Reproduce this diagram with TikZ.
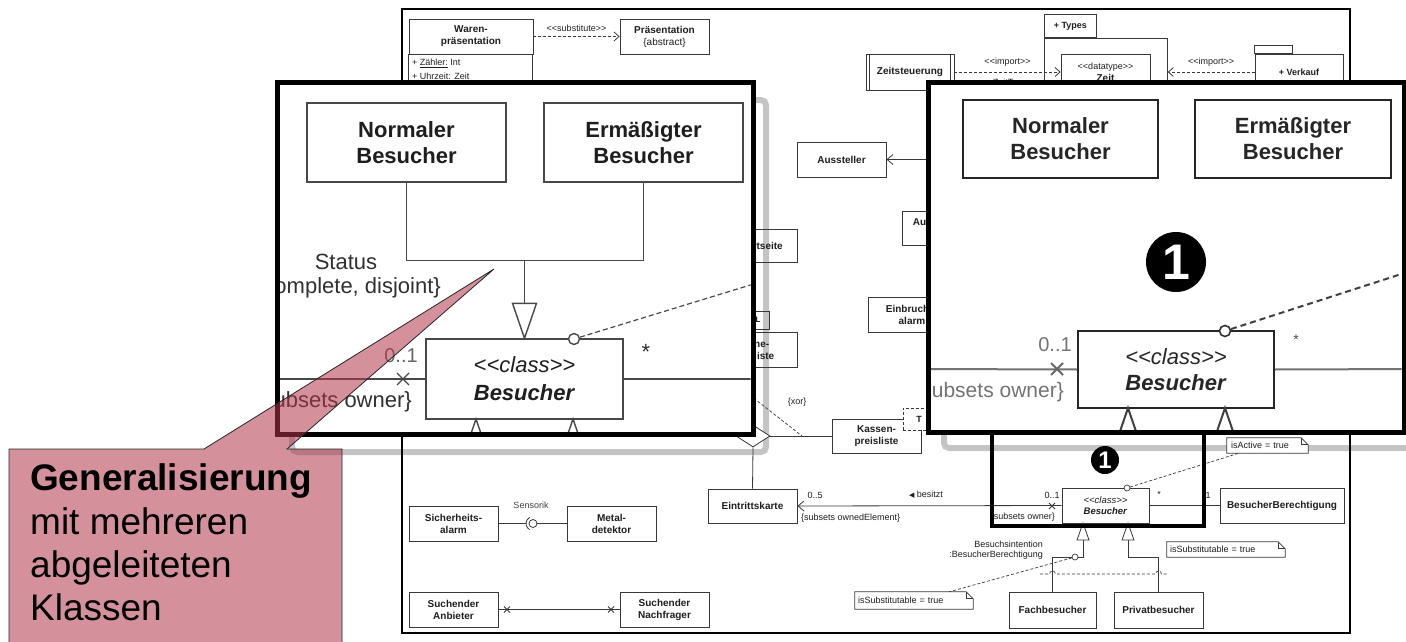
\documentclass[tikz,border=0pt]{standalone}
\usepackage{fontspec}
\setmainfont{Liberation Sans}
\newfontfamily\symfont{DejaVu Sans}
\usetikzlibrary{arrows.meta,shapes.geometric,calc}

\definecolor{ink}{HTML}{1E1E1E}
\definecolor{lnc}{HTML}{383838}
\definecolor{zoomline}{HTML}{484848}
\definecolor{zoomtext}{HTML}{303030}
\definecolor{shade}{HTML}{C4C4C4}
\definecolor{calloutpink}{RGB}{177,55,75}

% stereotype brackets without guillemet ligatures
\newcommand\guil[1]{<\kern0pt<#1>\kern0pt>}
% cross on an association end: #1 coordinate, #2 half size, #3 style
\newcommand\navx[3]{\draw[#3] (#1) ++(-#2,-#2) -- ++(2*#2,2*#2) ++(0,-2*#2) -- ++(-2*#2,2*#2);}
% outline of a UML note with folded corner
\newcommand\umlnote[1]{%
  \draw[lnc, line width=0.7] (#1.north west) -- ([xshift=-7pt]#1.north east) -- ([yshift=-7pt]#1.north east) -- (#1.south east) -- (#1.south west) -- cycle;
  \draw[lnc, line width=0.7] ([xshift=-7pt]#1.north east) |- ([yshift=-7pt]#1.north east);}

\begin{document}
\begin{tikzpicture}[x=1pt, y=-1pt,
  cls/.style={draw=lnc, line width=0.8, align=center, inner sep=1, text=ink, font=\bfseries\fontsize{10}{12}\selectfont},
  lbl/.style={inner sep=0, text=ink, font=\fontsize{9}{11}\selectfont},
  conn/.style={draw=lnc, line width=0.8},
  dep/.style={conn, dash pattern=on 3pt off 2pt, -{Straight Barb[length=5pt,width=9pt]}},
  navarrow/.style={conn, -{Straight Barb[length=6pt,width=10pt]}},
  dashlink/.style={conn, line width=0.7, dash pattern=on 3pt off 2pt},
  notebox/.style={lbl, fill=white, minimum height=15, inner xsep=4pt, text width=#1pt, align=left},
  tinycirc/.style={circle, draw=lnc, line width=0.7, fill=white, minimum size=6, inner sep=0},
  bigcls/.style={draw=zoomline, line width=1.4, align=center, text=ink, inner sep=2, font=\bfseries\fontsize{22}{26}\selectfont},
  biglbl/.style={inner sep=0, text=zoomtext, font=\fontsize{22}{26}\selectfont},
  bigline/.style={draw=zoomline, line width=1.4},
  blurcls/.style={draw=black!85, line width=2, align=center, text=black!85, inner sep=2, font=\bfseries\fontsize{22}{26}\selectfont},
  blurlbl/.style={inner sep=0, text=black!70, font=\fontsize{21}{26}\selectfont},
  blurline/.style={draw=black!75, line width=2},
  zoomframe/.style={draw=black, line width=5},
  shadowframe/.style={draw=shade, line width=6, rounded corners=5},
]
\useasboundingbox (0,0) rectangle (1406,642);

% ---------- grey drop frames of the magnified views ----------
\draw[shadowframe] (292,100) rectangle (766,452);
\draw[shadowframe] (944,100) rectangle (1440,448);

% ---------- class diagram ----------
\draw[black, line width=2] (402,9) rectangle (1350,633);

% Warenpraesentation and Praesentation
\node[cls, minimum width=124, minimum height=35] (waren) at (471,36.5) {Waren-\\präsentation};
\draw[lnc, line width=0.8] (waren.south west) rectangle ++(124,50);
\node[lbl, anchor=west] (attr1) at (412,63) {+ \underline{Zähler:} Int};
\node[lbl, anchor=west] (attr2) at (412,76) {+ Uhrzeit: Zeit};
\node[cls, minimum width=89, minimum height=35] (praes) at (664.5,36.5) {Präsentation\\{\mdseries\{abstract\}}};
\draw[dep] (waren.east) -- node[lbl, above=5pt] (subst) {\guil{substitute}} (praes.west);

% Zeitsteuerung, package Types, package Verkauf
\node[cls, minimum width=88, minimum height=36] (zeitst) at (910,72) {Zeitsteuerung};
\draw[conn] ([xshift=4]zeitst.north west) -- ([xshift=4]zeitst.south west);
\draw[conn] ([xshift=-4]zeitst.north east) -- ([xshift=-4]zeitst.south east);
\node[draw=lnc, line width=0.8, minimum width=123, minimum height=110, anchor=north west, inner sep=0] (types) at (1044,38) {};
\node[cls, minimum width=52, minimum height=23, anchor=south west, inner sep=0, font=\bfseries\fontsize{9}{11}\selectfont] (typestab) at (types.north west) {+ Types};
\node[cls, minimum width=89, minimum height=36] (zeit) at (1105.5,72) {{\mdseries\fontsize{9}{11}\selectfont\guil{datatype}}\\Zeit};
\node[cls, minimum width=88, minimum height=36, font=\bfseries\fontsize{9}{11}\selectfont] (verkauf) at (1299,72) {+ Verkauf};
\draw[conn] (verkauf.north west) rectangle ++(38,-8);
\draw[dep] (zeitst.east) -- node[lbl, above=5pt] (imp1) {\guil{import}} node[lbl, below=7pt] (ztyp) {ZeitTyp} (zeit.west);
\draw[dep] (verkauf.west) -- node[lbl, above=5pt] (imp2) {\guil{import}} (verkauf.west -| types.east);

% middle column
\node[cls, minimum width=89, minimum height=35] (aussteller) at (841.5,159.5) {Aussteller};
\coordinate (ausstsrc) at (990,159.5);
\draw[navarrow] (ausstsrc) -- (aussteller.east);
\node[cls, minimum width=88, minimum height=34] (ausfl) at (946,228) {Ausstellungs-\\fläche};
\node[cls, minimum width=74, minimum height=33] (start) at (760,245.5) {Startseite};
\node[cls, minimum width=88, minimum height=35] (einbruch) at (912,314.5) {Einbruchs-\\alarm};
\node[cls, minimum width=39, minimum height=18, font=\bfseries\fontsize{8}{9}\selectfont] (html) at (749.5,320) {HTML};
\node[cls, minimum width=90, minimum height=35] (online) at (752,349.5) {Online-\\Preisliste};

% Kassenpreisliste with template parameter, aggregation, xor
\node[cls, minimum width=89, minimum height=34] (kassen) at (876.5,436) {Kassen-\\preisliste};
\node[draw=lnc, dash pattern=on 3pt off 2pt, line width=0.8, fill=white, minimum width=32, minimum height=22, inner sep=0, text=ink, font=\bfseries\fontsize{9}{9}\selectfont] (tparam) at (919,419) {T};
\node[cls, minimum width=89, minimum height=34] (eintritt) at (752.5,506) {Eintrittskarte};
\node[diamond, draw=lnc, line width=0.8, minimum width=34, minimum height=22, inner sep=0, fill=white] (agg) at (753,436) {};
\draw[conn] (agg.east) -- (kassen.west);
\draw[conn] (agg.south) -- (eintritt.north);
\coordinate (xora) at (742,389);
\coordinate (xorb) at (802,436);
\draw[dashlink] (xora) -- (xorb);
\node[lbl] (xorlbl) at (797,402) {\{xor\}};

% Besucher and its associations
\node[cls, minimum width=87, minimum height=35, font=\fontsize{9.5}{11.5}\selectfont] (bes) at (1105.5,505.5) {\textit{\guil{class}}\\\textbf{\textit{Besucher}}};
\node[cls, minimum width=124, minimum height=35] (berecht) at (1282,505.5) {BesucherBerechtigung};
\draw[navarrow] (bes.west) -- (eintritt.east);
\draw[conn] (bes.east) -- (berecht.west);
\node[lbl] (m05) at (815,495) {0..5};
\node[lbl, anchor=west] (own1) at (801,518) {\{subsets ownedElement\}};
\node[lbl] (besitzt) at (926,495) {{\symfont\fontsize{7}{7}\selectfont ◀} besitzt};
\node[lbl] (m01) at (1052,495) {0..1};
\node[lbl, anchor=east] (own2) at (1055,517) {\{subsets owner\}};
\coordinate (xm) at (1052,506);
\navx{xm}{3}{conn}
\node[lbl] (star) at (1159,494) {*};
\node[lbl] (one) at (1208,495) {1};

\node[notebox=73] (nact) at (1267.5,445.5) {isActive = true};
\umlnote{nact}
\node[tinycirc] (bcirc) at (1127,488) {};
\draw[dashlink] (bcirc) -- ([xshift=12pt]nact.south west);

% specialisations of Besucher
\node[cls, minimum width=87, minimum height=36] (fach) at (1052.5,610) {Fachbesucher};
\node[cls, minimum width=89, minimum height=36] (priv) at (1158.5,610) {Privatbesucher};
\coordinate (g1) at (1083,523);
\coordinate (g2) at (1128,523);
\draw[conn] (g1) ++(0,17) -- ++(0,17) -| (fach.north);
\draw[conn] (g2) ++(0,17) -- ++(0,17) -| (priv.north);
\draw[conn, fill=white] (g1) -- ++(-6,17) -- ++(12,0) -- cycle;
\draw[conn, fill=white] (g2) -- ++(-6,17) -- ++(12,0) -- cycle;
\coordinate (ja) at (1040,574);
\coordinate (jb) at (1167,574);
\draw[dashlink] (ja) -- (1049.5,574) arc[start angle=180, end angle=360, radius=3] -- (1155.5,574) arc[start angle=180, end angle=360, radius=3] -- (jb);
\node[lbl, anchor=east] (bint1) at (1043,544) {Besuchsintention};
\node[lbl, anchor=east] (bint2) at (1043,555) {:BesucherBerechtigung};
\node[notebox=112, inner xsep=3pt] (nsub2) at (1226,549.5) {isSubstitutable = true};
\umlnote{nsub2}
\node[notebox=112, inner xsep=3pt, minimum height=17] (nsub1) at (914,600.5) {isSubstitutable = true};
\umlnote{nsub1}
\node[tinycirc] (gcirc) at (1075,557) {};
\draw[dashlink] (gcirc) -- ([xshift=-24pt]nsub1.north east);

% Sicherheitsalarm with ball and socket
\node[cls, minimum width=89, minimum height=35] (sich) at (453.5,523.5) {Sicherheits-\\alarm};
\node[cls, minimum width=89, minimum height=35] (metal) at (611.5,523.5) {Metal-\\detektor};
\coordinate (ball) at (533,523.5);
\draw[conn] (sich.east) -- ([xshift=-7pt]ball);
\draw[conn] ([xshift=4pt]ball) -- (metal.west);
\draw[conn] (ball) circle[radius=4];
\draw[conn] ([shift={(120:7)}]ball) arc[start angle=120, end angle=240, radius=7];
\node[lbl, text=black!75] (sens) at (531,505) {Sensorik};

% Suchender Anbieter / Nachfrager
\node[cls, minimum width=89, minimum height=35] (anb) at (453.5,609.5) {Suchender\\Anbieter};
\node[cls, minimum width=89, minimum height=35] (nachf) at (664.5,609.5) {Suchender\\Nachfrager};
\draw[conn] (anb.east) -- (nachf.west);
\coordinate (xa1) at (507,609.5);
\coordinate (xa2) at (611,609.5);
\navx{xa1}{3}{conn}
\navx{xa2}{3}{conn}

% marker of the magnified region
\draw[black, line width=4] (992,433) rectangle (1204,526);
\node[circle, fill=black, minimum size=28, inner sep=0, text=white, font=\bfseries\fontsize{24}{24}\selectfont] (num1) at (1105,460) {1};

% ---------- left magnified view ----------
\fill[white] (277,83) rectangle (753,434);
\begin{scope}
\clip (279.5,85.5) rectangle (750.5,431.5);
\node[bigcls, minimum width=199, minimum height=79] (normal) at (406.5,142.5) {Normaler\\Besucher};
\node[bigcls, minimum width=199, minimum height=79] (ermaess) at (643.5,142.5) {Ermäßigter\\Besucher};
\node[bigcls, minimum width=197, minimum height=80, font=\fontsize{22}{28}\selectfont] (bigbes) at (524.5,379) {\textit{\guil{class}}\\\textbf{\textit{Besucher}}};
\draw[bigline] (normal.south) -- ++(0,78) -| (ermaess.south);
\coordinate (gjoin) at (524.5,260);
\draw[bigline] (gjoin) -- ++(0,44);
\draw[bigline, fill=white] (bigbes.north) -- ++(-12,-35) -- ++(24,0) -- cycle;
\coordinate (bigdash) at (770,279);
\node[circle, draw=zoomline, line width=1.4, fill=white, minimum size=11, inner sep=0] (bigcirc) at (574,339) {};
\draw[bigline, line width=1.2, dash pattern=on 5pt off 3pt] (bigcirc) -- (bigdash);
\coordinate (lassocl) at (270,379);
\coordinate (lassocr) at (760,379);
\draw[bigline] (lassocl) -- (bigbes.west);
\draw[bigline] (bigbes.east) -- (lassocr);
\coordinate (bigx) at (403,379);
\navx{bigx}{6}{bigline}
\node[biglbl, text=black!60, font=\fontsize{20}{24}\selectfont] (big01) at (401,356) {0..1};
\node[biglbl, anchor=east] (bigown) at (412,402) {\{subsets owner\}};
\node[biglbl] (bigstar) at (646,352) {*};
\node[biglbl] (status) at (346,262) {Status};
\node[biglbl, anchor=east] (cd) at (441,288) {\{complete, disjoint\}};
\coordinate (bg1) at (476,419);
\coordinate (bg2) at (573,419);
\draw[bigline, fill=white] (bg1) -- ++(-12,35) -- ++(24,0) -- cycle;
\draw[bigline, fill=white] (bg2) -- ++(-12,35) -- ++(24,0) -- cycle;
\end{scope}
\draw[zoomframe] (277,83) rectangle (753,434);

% ---------- right magnified view ----------
\fill[white] (928,83) rectangle (1404,432);
\begin{scope}
\clip (930.5,85.5) rectangle (1401.5,429.5);
\node[blurcls, minimum width=195, minimum height=78] (normal2) at (1060.5,139) {Normaler\\Besucher};
\node[blurcls, minimum width=196, minimum height=78] (ermaess2) at (1293,139) {Ermäßigter\\Besucher};
\node[circle, fill=black, minimum size=60, inner sep=0, text=white, font=\bfseries\fontsize{50}{50}\selectfont] (num2) at (1176,262) {1};
\node[blurcls, minimum width=196, minimum height=77, font=\fontsize{22}{26}\selectfont] (bes2) at (1176,369.5) {\textit{\guil{class}}\\\textbf{\textit{Besucher}}};
\coordinate (dash2) at (1420,268);
\node[circle, draw=black!80, line width=1.6, fill=white, minimum size=11, inner sep=0] (circ2) at (1225,331) {};
\draw[blurline, dash pattern=on 6pt off 4pt] (circ2) -- (dash2);
\coordinate (rassocl) at (920,369);
\coordinate (rassocr) at (1420,369);
\draw[blurline, draw=black!55] (rassocl) -- (bes2.west);
\draw[blurline, draw=black!55] (bes2.east) -- (rassocr);
\coordinate (x2) at (1057,369);
\navx{x2}{6}{blurline, draw=black!60}
\node[blurlbl, text=black!55, font=\fontsize{20}{24}\selectfont] (r01) at (1055,345) {0..1};
\node[blurlbl, text=black!55, anchor=east] (rown) at (1064,392) {\{subsets owner\}};
\node[blurlbl, font=\fontsize{14}{14}\selectfont] (rstar) at (1296,340) {*};
\coordinate (rg1) at (1128,408);
\coordinate (rg2) at (1225,408);
\draw[blurline, fill=white] (rg1) -- ++(-12,35) -- ++(24,0) -- cycle;
\draw[blurline, fill=white] (rg2) -- ++(-12,35) -- ++(24,0) -- cycle;
\end{scope}
\draw[zoomframe] (928,83) rectangle (1404,432);

% ---------- callout ----------
\coordinate (calltip) at (494,269);
\path[draw=black!85, line width=0.8, fill=calloutpink, fill opacity=0.55]
  (9,449) -- (204,449) -- (calltip) -- (287,449) -- (342,449) -- (342,660) -- (9,660) -- cycle;
\node[anchor=base west, inner sep=0, font=\bfseries\fontsize{37}{43}\selectfont] (cl1) at (30,490) {Generalisierung};
\node[anchor=base west, inner sep=0, font=\fontsize{37}{43}\selectfont] (cl2) at (30,534) {mit mehreren};
\node[anchor=base west, inner sep=0, font=\fontsize{37}{43}\selectfont] (cl3) at (30,577) {abgeleiteten};
\node[anchor=base west, inner sep=0, font=\fontsize{37}{43}\selectfont] (cl4) at (30,620) {Klassen};
\end{tikzpicture}
\end{document}
